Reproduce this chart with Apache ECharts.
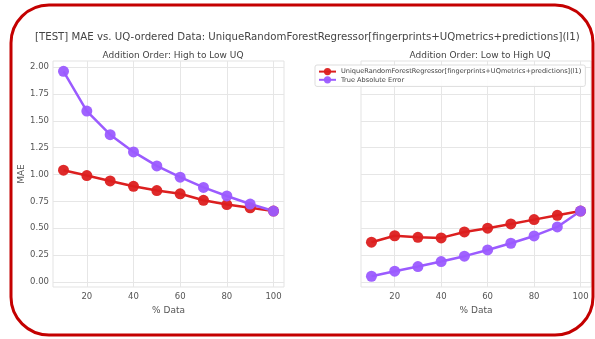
<!DOCTYPE html>
<html><head><meta charset="utf-8">
<script src="https://cdn.jsdelivr.net/npm/echarts@6/dist/echarts.min.js"></script>
<style>html,body{margin:0;padding:0;background:#fff}#c{width:595px;height:339px}</style>
</head><body><div id="c"></div>
<script>
const xValues = [10,20,30,40,50,60,70,80,90,100];
const xTicks = [20,40,60,80,100];
const yTicks = [0,0.25,0.5,0.75,1.0,1.25,1.5,1.75,2.0];
const modelName = 'UniqueRandomForestRegressor[fingerprints+UQmetrics+predictions](l1)';
const trueName = 'True Absolute Error';
// High to Low UQ
const highLowModel = [1.04,0.99,0.94,0.89,0.85,0.82,0.76,0.72,0.69,0.66];
const highLowTrue  = [1.96,1.59,1.37,1.21,1.08,0.975,0.88,0.80,0.725,0.66];
// Low to High UQ
const lowHighModel = [0.37,0.43,0.415,0.41,0.465,0.50,0.54,0.58,0.62,0.66];
const lowHighTrue  = [0.053,0.10,0.143,0.19,0.24,0.298,0.36,0.428,0.512,0.66];

const RED = '#dc1f1f', PURPLE = '#9b5bff';
const FONT = 'DejaVu Sans';
const pair = (xs, ys) => xs.map((x,i)=>[x, ys[i]]);

function xAxis(idx){
  return {gridIndex: idx, type:'value', min:5.5, max:104.5,
    axisLine:{show:false},
    axisTick:{show:false, customValues: xTicks},
    axisLabel:{customValues: xTicks, color:'#555', fontFamily:FONT, fontSize:8.5, margin:5},
    splitLine:{show:true, lineStyle:{color:'#e6e6e6', width:1}},
    name:'% Data', nameLocation:'middle', nameGap:15,
    nameTextStyle:{color:'#555', fontFamily:FONT, fontSize:9}};
}
function yAxis(idx, showLabels){
  return {gridIndex: idx, type:'value', min:-0.047, max:2.056,
    axisLine:{show:false},
    axisTick:{show:false, customValues: yTicks},
    axisLabel:{show:showLabels, customValues: yTicks, color:'#555', fontFamily:FONT, fontSize:8.5, margin:4,
      formatter: v => v.toFixed(2)},
    splitLine:{show:true, lineStyle:{color:'#e6e6e6', width:1}},
    name: showLabels ? 'MAE' : '', nameLocation:'middle', nameGap:26,
    nameTextStyle:{color:'#555', fontFamily:FONT, fontSize:9}};
}
function series(name, data, color, idx){
  return {name, type:'line', xAxisIndex:idx, yAxisIndex:idx, data,
    symbol:'circle', symbolSize:11, showSymbol:true,
    lineStyle:{color, width:2.5}, itemStyle:{color, borderColor:color, borderWidth:0, opacity:0.95},
    emphasis:{disabled:true}, animation:false};
}

const chart = echarts.init(document.getElementById('c'), null, {renderer:'canvas'});
chart.setOption({
  animation:false,
  backgroundColor:'#fff',
  title:[
    {text:'[TEST] MAE vs. UQ-ordered Data: '+modelName, left:30, top:27,
      textStyle:{fontFamily:FONT, fontSize:10.2, fontWeight:'normal', color:'#444'}},
    {text:'Addition Order: High to Low UQ', left:168, top:46, textAlign:'center',
      textStyle:{fontFamily:FONT, fontSize:9, fontWeight:'normal', color:'#444'}},
    {text:'Addition Order: Low to High UQ', left:475, top:46, textAlign:'center',
      textStyle:{fontFamily:FONT, fontSize:9, fontWeight:'normal', color:'#444'}}
  ],
  grid:[
    {left:53, top:61, width:231, height:226, show:true, borderColor:'#e3e3e3', borderWidth:1, backgroundColor:'transparent'},
    {left:361, top:61, width:230, height:226, show:true, borderColor:'#e3e3e3', borderWidth:1, backgroundColor:'transparent'}
  ],
  xAxis:[xAxis(0), xAxis(1)],
  yAxis:[yAxis(0,true), yAxis(1,false)],
  legend:{left:315, top:65, orient:'vertical', itemWidth:17, itemHeight:9, itemGap:1,
    padding:[3,4,3,3], backgroundColor:'rgba(255,255,255,0.9)', borderColor:'#dddddd', borderWidth:1, borderRadius:2,
    textStyle:{fontFamily:FONT, fontSize:6.6, color:'#444'},
    data:[modelName, trueName]},
  series:[
    series(modelName, pair(xValues, highLowModel), RED, 0),
    series(trueName, pair(xValues, highLowTrue), PURPLE, 0),
    series(modelName, pair(xValues, lowHighModel), RED, 1),
    series(trueName, pair(xValues, lowHighTrue), PURPLE, 1)
  ],
  graphic:[{type:'rect', shape:{x:11, y:5, width:582, height:330, r:38},
    style:{fill:null, stroke:'#c40000', lineWidth:3}, z:100, silent:true}]
});
</script></body></html>
